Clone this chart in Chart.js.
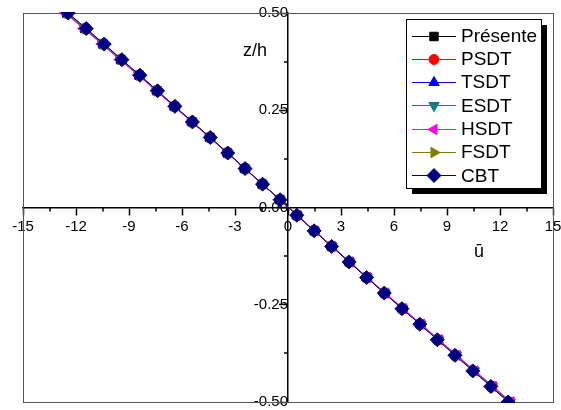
<!DOCTYPE html>
<html>
<head>
<meta charset="utf-8">
<script src="https://cdn.jsdelivr.net/npm/chart.js@4/dist/chart.umd.min.js"></script>
<style>
    body { margin: 0; background: #ffffff; }
    #chartBox { width: 561px; height: 410px; }
</style>
</head>
<body>
<div id="chartBox"><canvas id="uPlot" width="561" height="410"></canvas></div>
<script>
const FONT_FAMILY = "'Liberation Sans', Arial, sans-serif";
const FRAME_COLOR = "#555555";

// z/h positions through the thickness
const zValues = [0.50, 0.46, 0.42, 0.38, 0.34, 0.30, 0.26, 0.22, 0.18, 0.14, 0.10, 0.06, 0.02,
    -0.02, -0.06, -0.10, -0.14, -0.18, -0.22, -0.26, -0.30, -0.34, -0.38, -0.42, -0.46, -0.50];

// u-bar for each theory
const presente = [-12.52, -11.50, -10.47, -9.46, -8.43, -7.42, -6.43, -5.43, -4.42, -3.42, -2.44, -1.45, -0.46,
    0.51, 1.49, 2.48, 3.48, 4.47, 5.48, 6.48, 7.50, 8.50, 9.51, 10.52, 11.55, 12.54];
const psdt = [-12.51, -11.49, -10.46, -9.45, -8.43, -7.42, -6.43, -5.43, -4.42, -3.42, -2.44, -1.45, -0.46,
    0.51, 1.49, 2.48, 3.48, 4.47, 5.47, 6.48, 7.49, 8.49, 9.50, 10.51, 11.54, 12.53];
const tsdt = [-12.50, -11.48, -10.46, -9.45, -8.42, -7.41, -6.42, -5.43, -4.41, -3.42, -2.44, -1.45, -0.46,
    0.51, 1.49, 2.48, 3.47, 4.46, 5.47, 6.47, 7.49, 8.49, 9.50, 10.51, 11.53, 12.52];
const esdt = [-12.56, -11.53, -10.50, -9.48, -8.45, -7.44, -6.44, -5.44, -4.43, -3.43, -2.45, -1.45, -0.46,
    0.51, 1.50, 2.49, 3.49, 4.48, 5.49, 6.50, 7.52, 8.52, 9.53, 10.55, 11.58, 12.58];
const hsdt = [-12.62, -11.58, -10.54, -9.52, -8.49, -7.47, -6.46, -5.46, -4.45, -3.44, -2.45, -1.46, -0.47,
    0.52, 1.51, 2.50, 3.50, 4.50, 5.51, 6.52, 7.55, 8.55, 9.57, 10.58, 11.62, 12.63];
const fsdt = [-12.48, -11.46, -10.44, -9.43, -8.41, -7.40, -6.41, -5.42, -4.41, -3.41, -2.43, -1.44, -0.45,
    0.50, 1.48, 2.47, 3.46, 4.46, 5.46, 6.46, 7.48, 8.47, 9.48, 10.49, 11.51, 12.50];
const cbt = [-12.44, -11.42, -10.40, -9.40, -8.38, -7.38, -6.40, -5.41, -4.40, -3.41, -2.43, -1.44, -0.45,
    0.50, 1.48, 2.47, 3.46, 4.45, 5.45, 6.45, 7.46, 8.45, 9.45, 10.46, 11.48, 12.46];

const seriesNames = ["Présente", "PSDT", "TSDT", "ESDT", "HSDT", "FSDT", "CBT"];
const seriesValues = [presente, psdt, tsdt, esdt, hsdt, fsdt, cbt];
const seriesColors = ["#000000", "#ff0000", "#0000ff", "#008080", "#ff00ff", "#808000", "#000080"];
const seriesPoints = ["rect", "circle", "triangle", "triangle", "triangle", "triangle", "rectRot"];
const seriesRotation = [0, 0, 0, 180, 270, 90, 0];
const seriesRadius = [6, 5, 6, 6, 6, 6, 7];
const seriesOrder = [6, 5, 4, 3, 1, 2, 0];

const xMinorTicks = [-13.5, -10.5, -7.5, -4.5, -1.5, 1.5, 4.5, 7.5, 10.5, 13.5];
const yMinorTicks = [-0.375, -0.125, 0.125, 0.375];

let datasets = seriesNames.map(function (name, i) {
    return {
        label: name,
        data: zValues.map((z, k) => ({ x: seriesValues[i][k], y: z })),
        showLine: true,
        borderColor: seriesColors[i],
        backgroundColor: seriesColors[i],
        borderWidth: 1,
        pointStyle: seriesPoints[i],
        rotation: seriesRotation[i],
        pointRadius: seriesRadius[i],
        pointBorderWidth: 1,
        order: seriesOrder[i],
        clip: 1,
    };
});

// frame, minor ticks, axis titles and the boxed legend
const decorPlugin = {
    id: "decor",
    beforeDatasetsDraw(chart) {
        let ctx = chart.ctx;
        let area = chart.chartArea;
        ctx.save();
        ctx.strokeStyle = FRAME_COLOR;
        ctx.lineWidth = 1;
        ctx.strokeRect(Math.round(area.left) + 0.5, Math.round(area.top) + 0.5,
            Math.round(area.right - area.left), Math.round(area.bottom - area.top));
        ctx.restore();
    },
    afterDraw(chart) {
        let ctx = chart.ctx;
        let xs = chart.scales.x;
        let ys = chart.scales.y;
        let x0 = xs.getPixelForValue(0);
        let y0 = ys.getPixelForValue(0);

        ctx.save();
        ctx.strokeStyle = "#000000";
        ctx.lineWidth = 1.5;
        ctx.beginPath();
        xMinorTicks.forEach(function (v) {
            let px = Math.round(xs.getPixelForValue(v));
            ctx.moveTo(px, y0);
            ctx.lineTo(px, y0 + 4);
        });
        yMinorTicks.forEach(function (v) {
            let py = Math.round(ys.getPixelForValue(v));
            ctx.moveTo(x0 - 4, py);
            ctx.lineTo(x0, py);
        });
        ctx.stroke();

        ctx.fillStyle = "#000000";
        ctx.font = "18px " + FONT_FAMILY;
        ctx.textBaseline = "alphabetic";
        ctx.textAlign = "left";
        ctx.fillText("z/h", 243, 56);
        ctx.fillText("\u016B", 474, 257);

        // legend box with shadow
        let boxLeft = 406, boxTop = 19, boxWidth = 135, boxHeight = 169;
        ctx.fillStyle = "#000000";
        ctx.fillRect(boxLeft + 6, boxTop + 6, boxWidth, boxHeight);
        ctx.fillStyle = "#ffffff";
        ctx.fillRect(boxLeft, boxTop, boxWidth, boxHeight);
        ctx.strokeStyle = "#000000";
        ctx.lineWidth = 1;
        ctx.strokeRect(boxLeft + 0.5, boxTop + 0.5, boxWidth, boxHeight);

        ctx.font = "19px " + FONT_FAMILY;
        ctx.textBaseline = "middle";
        seriesNames.forEach(function (name, i) {
            let rowY = 35.5 + i * 23.3;
            ctx.strokeStyle = seriesColors[i];
            ctx.lineWidth = 1;
            ctx.beginPath();
            ctx.moveTo(412, Math.round(rowY) + 0.5);
            ctx.lineTo(456, Math.round(rowY) + 0.5);
            ctx.stroke();
            ctx.fillStyle = seriesColors[i];
            Chart.helpers.drawPoint(ctx, {
                pointStyle: seriesPoints[i],
                rotation: seriesRotation[i],
                radius: seriesRadius[i],
                borderWidth: 1,
            }, 434, Math.round(rowY) + 0.5);
            ctx.fillStyle = "#000000";
            ctx.fillText(name, 461, rowY + 1);
        });
        ctx.restore();
    },
};

function zeroPadding(scale) {
    scale.paddingLeft = 0;
    scale.paddingRight = 0;
    scale.paddingTop = 0;
    scale.paddingBottom = 0;
}

const config = {
    type: "scatter",
    data: { datasets: datasets },
    options: {
        responsive: false,
        animation: false,
        layout: {
            padding: { left: 23, right: 5, top: 13, bottom: 7 },
        },
        plugins: {
            legend: { display: false },
            tooltip: { enabled: false },
        },
        scales: {
            x: {
                type: "linear",
                position: { y: 0 },
                min: -15,
                max: 15,
                afterFit: zeroPadding,
                border: { color: "#000000", width: 1.5 },
                grid: {
                    drawOnChartArea: false,
                    tickLength: 7,
                    tickColor: "#000000",
                    tickWidth: 1.5,
                },
                ticks: {
                    stepSize: 3,
                    autoSkip: false,
                    maxRotation: 0,
                    padding: 3,
                    color: "#000000",
                    font: { family: FONT_FAMILY, size: 15 },
                    callback: function (value) {
                        return String(value);
                    },
                },
            },
            y: {
                type: "linear",
                position: { x: 0 },
                min: -0.5,
                max: 0.5,
                afterFit: zeroPadding,
                border: { color: "#000000", width: 1.5 },
                grid: {
                    drawOnChartArea: false,
                    tickLength: 8,
                    tickColor: "#000000",
                    tickWidth: 1.5,
                },
                ticks: {
                    stepSize: 0.25,
                    autoSkip: false,
                    padding: 5,
                    color: "#000000",
                    font: { family: FONT_FAMILY, size: 15 },
                    callback: function (value) {
                        return Number(value).toFixed(2);
                    },
                },
            },
        },
    },
    plugins: [decorPlugin],
};

let uPlot = document.getElementById("uPlot");
let chart = new Chart(uPlot.getContext("2d"), config);
</script>
</body>
</html>
